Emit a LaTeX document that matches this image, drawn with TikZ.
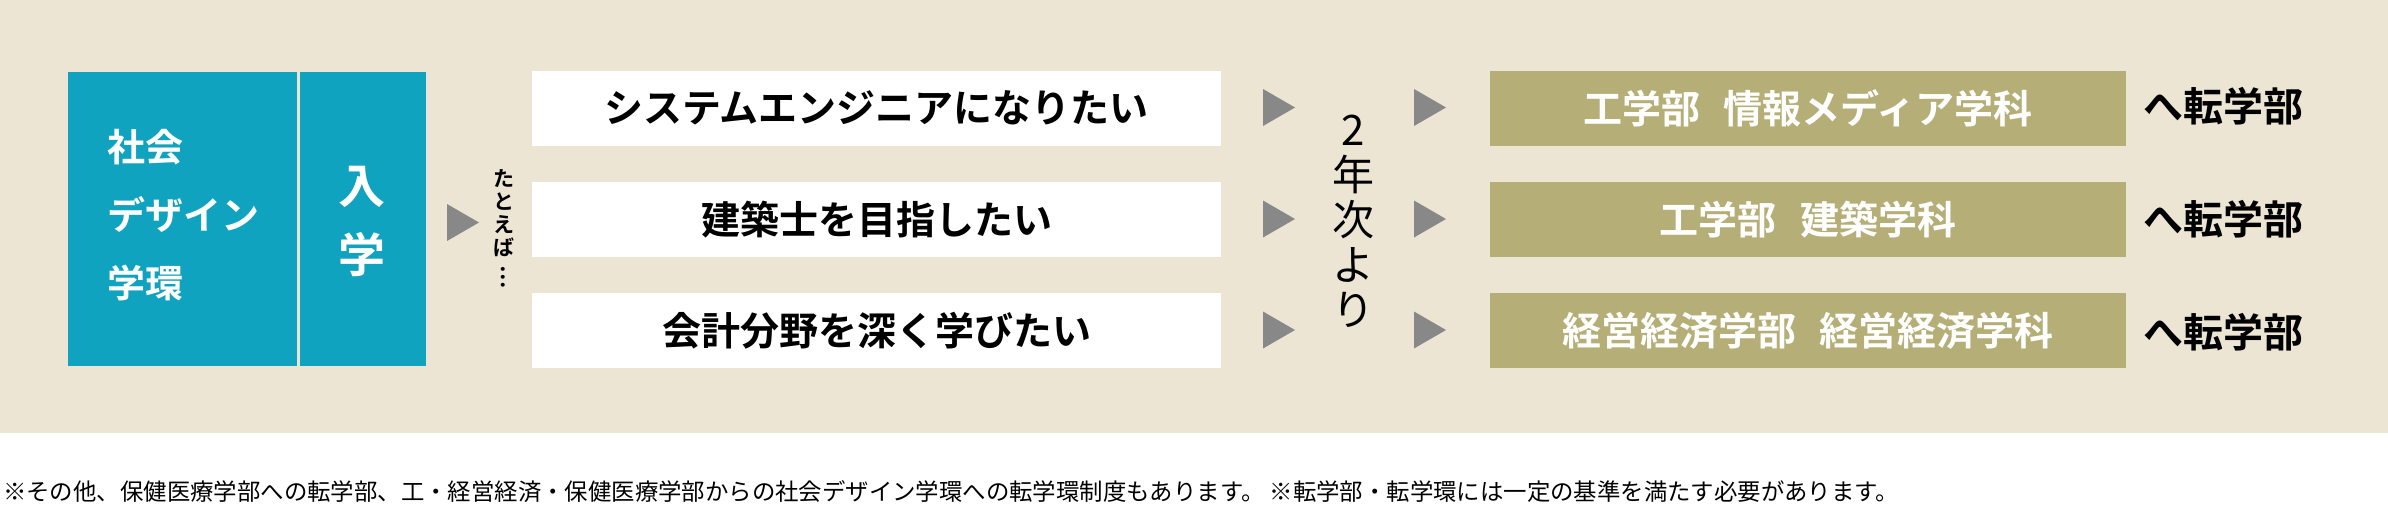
\documentclass[tikz,border=0pt]{standalone}
\usepackage{fontspec}
\newfontfamily\jp{Noto Sans CJK JP}[BoldFont={Noto Sans CJK JP Bold}]
\definecolor{bgbeige}{HTML}{EDE5D3}
\definecolor{tealbox}{HTML}{10A3BF}
\definecolor{olivebox}{HTML}{B5AF77}
\definecolor{arrowgray}{HTML}{888888}
\tikzset{
  boxtext/.style={inner sep=0pt, font=\jp\bfseries\fontsize{39}{39}\selectfont},
  wbox/.style={boxtext, fill=white, minimum width=689pt, minimum height=75pt, text=black},
  obox/.style={boxtext, fill=olivebox, minimum width=636pt, minimum height=75pt, text=white},
  tobox/.style={inner sep=0pt, anchor=west, text=black, font=\jp\bfseries\fontsize{40}{40}\selectfont},
  tealrect/.style={fill=tealbox, inner sep=0pt, anchor=north west},
  tri/.style={fill=arrowgray},
}
\newcommand{\tria}[2]{\fill[tri] (#1,#2-18.5) -- (#1+32,#2) -- (#1,#2+18.5) -- cycle;}
\begin{document}
\begin{tikzpicture}[x=1pt,y=-1pt]
\useasboundingbox (0,0) rectangle (2388,504);
\fill[bgbeige] (0,0) rectangle (2388,433);
% teal blocks
\node[tealrect, minimum width=229pt, minimum height=294pt] (sd) at (68,72) {};
\node[tealrect, minimum width=126pt, minimum height=294pt] (nyu) at (300,72) {};
\node[inner sep=0pt, align=left, text=white, font=\jp\bfseries\fontsize{38}{68}\selectfont] (sdt) at (183.5,215) {社会\\デザイン\\学環};
\node[inner sep=0pt, align=center, text=white, font=\jp\bfseries\fontsize{47}{69}\selectfont] (nyut) at (362,221) {入\\学};
% first arrow and "tatoeba"
\tria{447}{222.5}
\node[inner sep=0pt, align=center, font=\jp\bfseries\fontsize{21}{23}\selectfont] (tat) at (503.5,229) {た\\と\\え\\ば\\\rotatebox[origin=c]{-90}{…}};
% white boxes
\node[wbox] (w1) at (876.5,108) {システムエンジニアになりたい};
\node[wbox] (w2) at (876.5,219.5) {建築士を目指したい};
\node[wbox] (w3) at (876.5,330.5) {会計分野を深く学びたい};
% arrows
\tria{1263}{107.5}
\tria{1263}{219}
\tria{1263}{330}
\tria{1414}{107.5}
\tria{1414}{219}
\tria{1414}{330}
\node[inner sep=0pt, align=center, font=\jp\fontsize{42}{45}\selectfont] (nen) at (1353,221) {2\\年\\次\\よ\\り};
% olive boxes
\node[obox] (o1) at (1808,108) {工学部\hspace{0.6em}情報メディア学科};
\node[obox] (o2) at (1808,219.5) {工学部\hspace{0.6em}建築学科};
\node[obox] (o3) at (1808,330.5) {経営経済学部\hspace{0.6em}経営経済学科};
\node[tobox] (t1) at (2143,106) {へ転学部};
\node[tobox] (t2) at (2143,219) {へ転学部};
\node[tobox] (t3) at (2143,332) {へ転学部};
% footnote
\node[inner sep=0pt, anchor=west, font=\jp\fontsize{23.4}{23.4}\selectfont] (note) at (3,492) {※その他、保健医療学部への転学部、工・経営経済・保健医療学部からの社会デザイン学環への転学環制度もあります。 ※転学部・転学環には一定の基準を満たす必要があります。};
\end{tikzpicture}
\end{document}
